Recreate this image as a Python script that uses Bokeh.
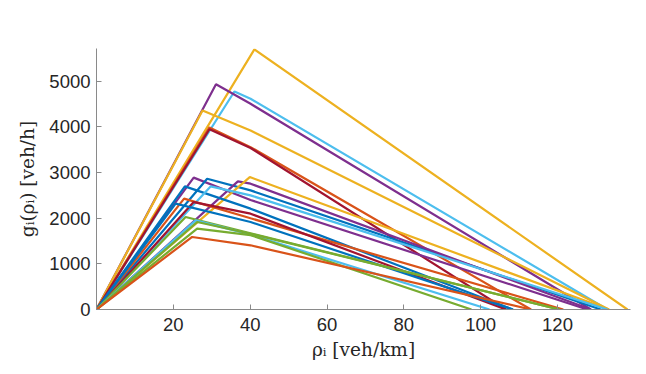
from bokeh.plotting import figure
from bokeh.models import Range1d, FixedTicker, ColumnDataSource
from bokeh.embed import file_html
from bokeh.resources import INLINE

# critical density, capacity, flow read at rho = 40.1 (congested branch), jam density
rho_crit = [41.1, 35.9, 31.1, 27.6, 29.4, 29.4, 25.3, 28.8, 36.8, 39.9, 23.0, 29.7, 22.8, 25.3, 20.6, 23.2, 25.8, 26.2, 26.2, 24.9]
q_max    = [5700, 4777, 4937, 4360, 3990, 3950, 2890, 2866, 2807, 2902, 2698, 2698, 2429, 2354, 2319, 2026, 1954, 1917, 1772, 1589]
rho_read = 40.1
q_read   = [None, 4619, 4508, 3923, 3558, 3540, 2400, 2610, 2757, None, 2210, 2501, 2000, 2100, 1917, 1670, 1640, 1660, 1630, 1407]
rho_jam  = [138.2, 133.0, 128.7, 133.4, 113.1, 106.6, 127.8, 131.3, 128.7, 133.4, 108.4, 133.0, 121.5, 106.6, 108.4, 120.5, 102.3, 120.5, 97.6, 113.1]

x_ticks = [20, 40, 60, 80, 100, 120]
y_ticks = [0, 1000, 2000, 3000, 4000, 5000]

palette = {"blue": "#0072BD", "orange": "#D95319", "yellow": "#EDB120", "purple": "#7E2F8E",
           "green": "#77AC30", "lightblue": "#4DBEEE", "darkred": "#A2142F"}
curve_colors = ["yellow", "lightblue", "purple", "yellow", "orange", "darkred", "purple", "blue",
                "purple", "yellow", "blue", "lightblue", "orange", "darkred", "blue", "green",
                "lightblue", "green", "green", "orange"]

xs, ys, cs = [], [], []
for i in range(len(q_max)):
    x = [0, rho_crit[i]]
    y = [0, q_max[i]]
    if q_read[i] is not None:
        x.append(rho_read)
        y.append(q_read[i])
    x.append(rho_jam[i])
    y.append(0)
    xs.append(x)
    ys.append(y)
    cs.append(palette[curve_colors[i]])

src = ColumnDataSource(dict(xs=xs, ys=ys, color=cs))

p = figure(width=638, height=366, output_backend="svg", toolbar_location=None,
           x_range=Range1d(0, 139), y_range=Range1d(0, 5720),
           min_border_left=96, min_border_right=8, min_border_top=48, min_border_bottom=57)
p.outline_line_color = None
p.grid.visible = False

p.multi_line(xs="xs", ys="ys", line_color="color", line_width=2.2, source=src)

axis_col = "#8a8a8a"
for ax in (p.xaxis[0], p.yaxis[0]):
    ax.axis_line_color = axis_col
    ax.major_tick_line_color = axis_col
    ax.major_tick_in = 5
    ax.major_tick_out = 0
    ax.minor_tick_line_color = None
    ax.major_label_text_font = "Liberation Sans"
    ax.major_label_text_font_size = "18.5px"
    ax.major_label_text_color = "#262626"
    ax.axis_label_text_font = "DejaVu Serif"
    ax.axis_label_text_font_style = "normal"
    ax.axis_label_text_font_size = "18.5px"
    ax.axis_label_text_color = "#262626"

p.xaxis.ticker = FixedTicker(ticks=x_ticks)
p.yaxis.ticker = FixedTicker(ticks=y_ticks)
p.xaxis.major_label_standoff = 8
p.yaxis.major_label_standoff = 6
p.xaxis.axis_label = "ρᵢ [veh/km]"
p.yaxis.axis_label = "gᵢ(ρᵢ) [veh/h]"
p.xaxis.axis_label_standoff = 5
p.yaxis.axis_label_standoff = 8

open("out.html", "w").write(file_html(p, INLINE))
